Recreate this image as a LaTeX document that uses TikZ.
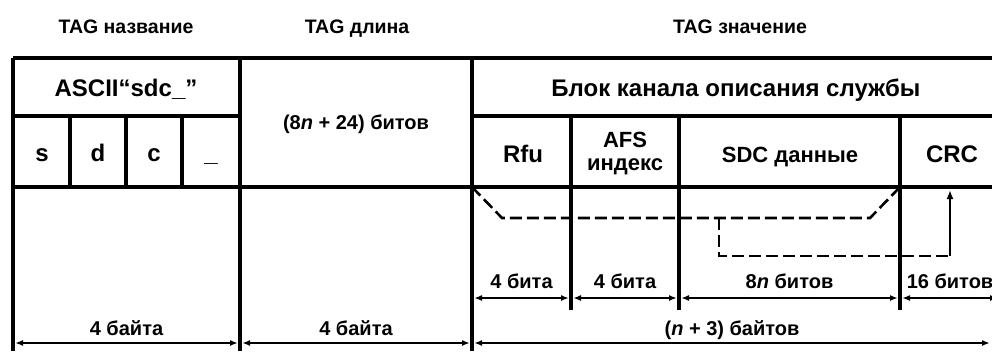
\documentclass[tikz,border=0pt]{standalone}
\usepackage{fontspec}
\setmainfont{Liberation Sans}
\usetikzlibrary{arrows.meta}

\begin{document}
\begin{tikzpicture}[x=1pt,y=-1pt,font=\bfseries,
    grid/.style={line width=3.4pt},
    dimline/.style={line width=1.8pt,{Latex[length=8pt,width=6pt]}-{Latex[length=8pt,width=6pt]},shorten <=2pt,shorten >=2pt},
    flow/.style={line width=2.6pt,dash pattern=on 12pt off 5pt},
    head/.style={anchor=base,font=\bfseries\fontsize{19.5}{21}\selectfont},
    cell/.style={anchor=base,font=\bfseries\fontsize{24}{23}\selectfont,align=center},
    size/.style={anchor=base,font=\bfseries\fontsize{20}{22}\selectfont}]
    \useasboundingbox (0,0) rectangle (992,351);

    % headers
    \node[head] (tagname) at (126,33) {TAG название};
    \node[head] (taglen) at (357,33) {TAG длина};
    \node[head] (tagval) at (740,33) {TAG значение};

    % table lines
    \draw[grid] (13,58) -- (992,58);
    \draw[grid] (13,116) -- (240,116) (472,116) -- (992,116);
    \draw[grid] (13,187) -- (992,187);
    \draw[grid] (13,58) -- (13,351) (240,58) -- (240,351) (472,58) -- (472,351);
    \foreach \x in {70,126,182}
        \draw[grid] (\x,116) -- (\x,187);
    \foreach \x in {571,679,900}
        \draw[grid] (\x,116) -- (\x,310);

    % cells
    \node[cell] (ascii) at (126,96) {ASCII“sdc\_”};
    \node[cell,font=\bfseries\fontsize{20}{22}\selectfont] (len) at (356,129) {(8\textit{n} + 24) битов};
    \node[cell] (block) at (736,96) {Блок канала описания службы};
    \node[cell] (s) at (42,161) {s};
    \node[cell] (d) at (98,161) {d};
    \node[cell] (c) at (154,161) {c};
    \node[cell] (u) at (211,161) {\_};
    \node[cell] (rfu) at (523,162) {Rfu};
    \node[cell,font=\bfseries\fontsize{22}{23}\selectfont] (afs) at (625,170) {AFS\\индекс};
    \node[cell,font=\bfseries\fontsize{22}{23}\selectfont] (sdc) at (790,162) {SDC данные};
    \node[cell] (crc) at (952,162) {CRC};

    % flow of crc
    \coordinate (f1) at (472,187);
    \coordinate (f2) at (502,218);
    \coordinate (f3) at (870,218);
    \coordinate (f4) at (900,187);
    \coordinate (g1) at (719,218);
    \coordinate (g2) at (719,256);
    \coordinate (g3) at (950,256);
    \coordinate (g4) at (950,190);
    \draw[flow] (f1) -- (f2) -- (f3) -- (f4);
    \draw[flow] (g1) -- (g2) -- (g3);
    \draw[line width=2.6pt,-{Latex[length=9pt,width=7pt]}] (g3) -- (g4);

    % sizes in bits
    \foreach \a/\b/\t [count=\i] in {472/571/4 бита,571/679/4 бита,679/900/8\textit{n} битов,900/1000/16 битов}{
        \coordinate (p\i) at (\a,298);
        \coordinate (q\i) at (\b,298);
        \draw[dimline] (p\i) -- (q\i) node[size,midway,yshift=10pt] (t\i) {\t};
    }

    % sizes in bytes
    \coordinate (b0) at (13,343);
    \coordinate (b1) at (240,343);
    \coordinate (b2) at (472,343);
    \coordinate (b3) at (992,343);
    \draw[dimline] (b0) -- (b1) node[size,midway,yshift=8pt] (w1) {4 байта};
    \draw[dimline] (b1) -- (b2) node[size,midway,yshift=8pt] (w2) {4 байта};
    \draw[dimline] (b2) -- (b3) node[size,midway,yshift=8pt] (w3) {(\textit{n} + 3) байтов};
\end{tikzpicture}
\end{document}
